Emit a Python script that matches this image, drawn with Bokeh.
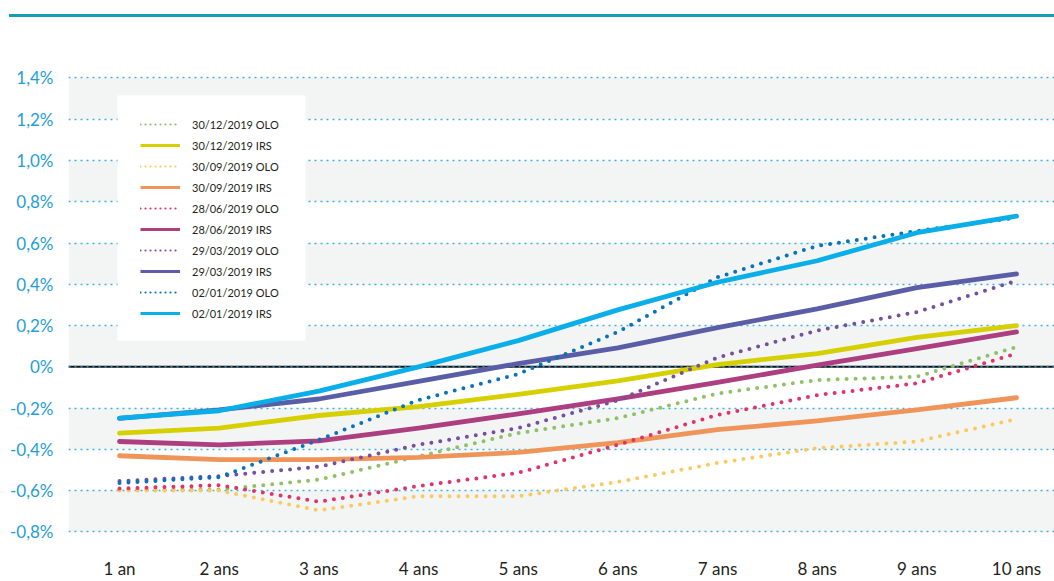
import math
from bokeh.plotting import figure
from bokeh.models import FixedTicker, Legend, LegendItem, BoxAnnotation, Span, Range1d, Div
from bokeh.layouts import column
from bokeh.embed import file_html
from bokeh.resources import INLINE

# ---------------- data ----------------
maturities = [1, 2, 3, 4, 5, 6, 7, 8, 9, 10]
x_labels = ["1 an", "2 ans", "3 ans", "4 ans", "5 ans", "6 ans", "7 ans", "8 ans", "9 ans", "10 ans"]

y_ticks = [-0.8, -0.6, -0.4, -0.2, 0.0, 0.2, 0.4, 0.6, 0.8, 1.0, 1.2, 1.4]
y_tick_labels = ["-0,8%", "-0,6%", "-0,4%", "-0,2%", "0%", "0,2%", "0,4%", "0,6%", "0,8%", "1,0%", "1,2%", "1,4%"]

olo_20191230 = [-0.595, -0.595, -0.547, -0.434, -0.321, -0.249, -0.129, -0.064, -0.048, 0.096]
irs_20191230 = [-0.321, -0.297, -0.236, -0.193, -0.134, -0.068, 0.011, 0.064, 0.143, 0.200]
olo_20190930 = [-0.600, -0.600, -0.696, -0.627, -0.627, -0.558, -0.466, -0.394, -0.362, -0.253]
irs_20190930 = [-0.431, -0.450, -0.450, -0.439, -0.415, -0.368, -0.305, -0.262, -0.209, -0.150]
olo_20190628 = [-0.590, -0.574, -0.654, -0.578, -0.514, -0.378, -0.233, -0.137, -0.080, 0.064]
irs_20190628 = [-0.362, -0.378, -0.359, -0.297, -0.228, -0.156, -0.076, 0.008, 0.088, 0.169]
olo_20190329 = [-0.554, -0.530, -0.484, -0.378, -0.297, -0.163, 0.045, 0.176, 0.265, 0.417]
irs_20190329 = [-0.250, -0.209, -0.156, -0.071, 0.016, 0.092, 0.190, 0.281, 0.384, 0.450]
olo_20190102 = [-0.563, -0.535, -0.354, -0.161, -0.035, 0.169, 0.434, 0.586, 0.658, 0.723]
irs_20190102 = [-0.249, -0.213, -0.118, 0.000, 0.127, 0.276, 0.410, 0.514, 0.650, 0.730]

series_names = ["30/12/2019 OLO", "30/12/2019 IRS", "30/09/2019 OLO", "30/09/2019 IRS",
                "28/06/2019 OLO", "28/06/2019 IRS", "29/03/2019 OLO", "29/03/2019 IRS",
                "02/01/2019 OLO", "02/01/2019 IRS"]
series_values = [olo_20191230, irs_20191230, olo_20190930, irs_20190930, olo_20190628,
                 irs_20190628, olo_20190329, irs_20190329, olo_20190102, irs_20190102]
series_colors = ["#8fc166", "#d6d000", "#fcc860", "#f0955a", "#e03369",
                 "#ad3e7f", "#774f9e", "#5b5ea6", "#0a72b8", "#0aaee8"]
series_dotted = [True, False, True, False, True, False, True, False, True, False]

# ---------------- layout ----------------
FONT = "Lato"
TEAL = "#14a0b4"

top_rule = Div(text='<div style="margin:14px 0 0 9px;height:3px;width:1045px;background:%s;"></div>' % TEAL,
               width=1054, height=20, margin=(0, 0, 0, 0))

p = figure(width=1054, height=561, output_backend="svg", toolbar_location=None,
           x_range=Range1d(0.4883, 10.381), y_range=Range1d(-0.8516, 1.6786),
           min_border_left=68, min_border_right=0, min_border_top=0, min_border_bottom=36)
p.outline_line_color = None
p.background_fill_color = "white"
p.border_fill_color = "white"

# alternating background bands
for lo, hi in zip(y_ticks[0::2], y_ticks[1::2]):
    p.add_layout(BoxAnnotation(bottom=lo, top=hi, fill_color="#f3f5f5", fill_alpha=1.0,
                               line_color=None, level="image"))

# axes
p.yaxis.ticker = FixedTicker(ticks=y_ticks)
p.yaxis.major_label_overrides = {t: l for t, l in zip(y_ticks, y_tick_labels)}
p.xaxis.ticker = FixedTicker(ticks=maturities)
p.xaxis.major_label_overrides = {m: l for m, l in zip(maturities, x_labels)}
for ax in (p.xaxis[0], p.yaxis[0]):
    ax.axis_line_color = None
    ax.major_tick_line_color = None
    ax.minor_tick_line_color = None
    ax.major_tick_out = 0
    ax.major_tick_in = 0
    ax.minor_tick_out = 0
    ax.minor_tick_in = 0
    ax.major_label_text_font = FONT
    ax.major_label_text_font_size = "17px"
p.yaxis.major_label_text_color = "#1f9ed9"
p.yaxis.major_label_standoff = 15
p.xaxis.major_label_text_color = "#231f20"
p.xaxis.major_label_standoff = 15

# grid
p.xgrid.visible = False
p.ygrid.grid_line_color = "#3fb0e4"
p.ygrid.grid_line_dash = "2 4"
p.ygrid.grid_line_width = 1.3

# zero line
p.add_layout(Span(location=0, dimension="width", line_color="#111111", line_width=2, level="underlay"))
p.add_layout(Span(location=0, dimension="width", line_color="#3fb0e4", line_width=1.3,
                  line_dash="2 4", level="underlay"))

# white legend panel
p.add_layout(BoxAnnotation(left=117, right=305, top=75, bottom=320,
                           left_units="canvas", right_units="canvas",
                           top_units="canvas", bottom_units="canvas",
                           fill_color="white", fill_alpha=1.0, line_color=None, level="underlay"))

# lines
items = []
nan_vals = [math.nan] * len(maturities)
for name, vals, col, dotted in zip(series_names, series_values, series_colors, series_dotted):
    if dotted:
        p.line(maturities, vals, line_color=col, line_width=4, line_dash="0 9",
               line_cap="round", line_join="round")
        proxy = p.line(maturities, nan_vals, line_color=col, line_width=2.2, line_dash="0 5",
                       line_cap="round")
    else:
        p.line(maturities, vals, line_color=col, line_width=4.8, line_cap="round", line_join="round")
        proxy = p.line(maturities, nan_vals, line_color=col, line_width=3, line_cap="butt")
    items.append(LegendItem(label=name, renderers=[proxy]))

legend = Legend(items=items, location=(72, 219), padding=0, spacing=1,
                glyph_width=40, glyph_height=20, label_height=20, label_standoff=12,
                label_text_font=FONT, label_text_font_size="11px", label_text_color="#231f20",
                background_fill_alpha=0.0, border_line_color=None, margin=0)
p.add_layout(legend)

layout = column(top_rule, p, spacing=0)
open("out.html", "w").write(file_html(layout, INLINE))
